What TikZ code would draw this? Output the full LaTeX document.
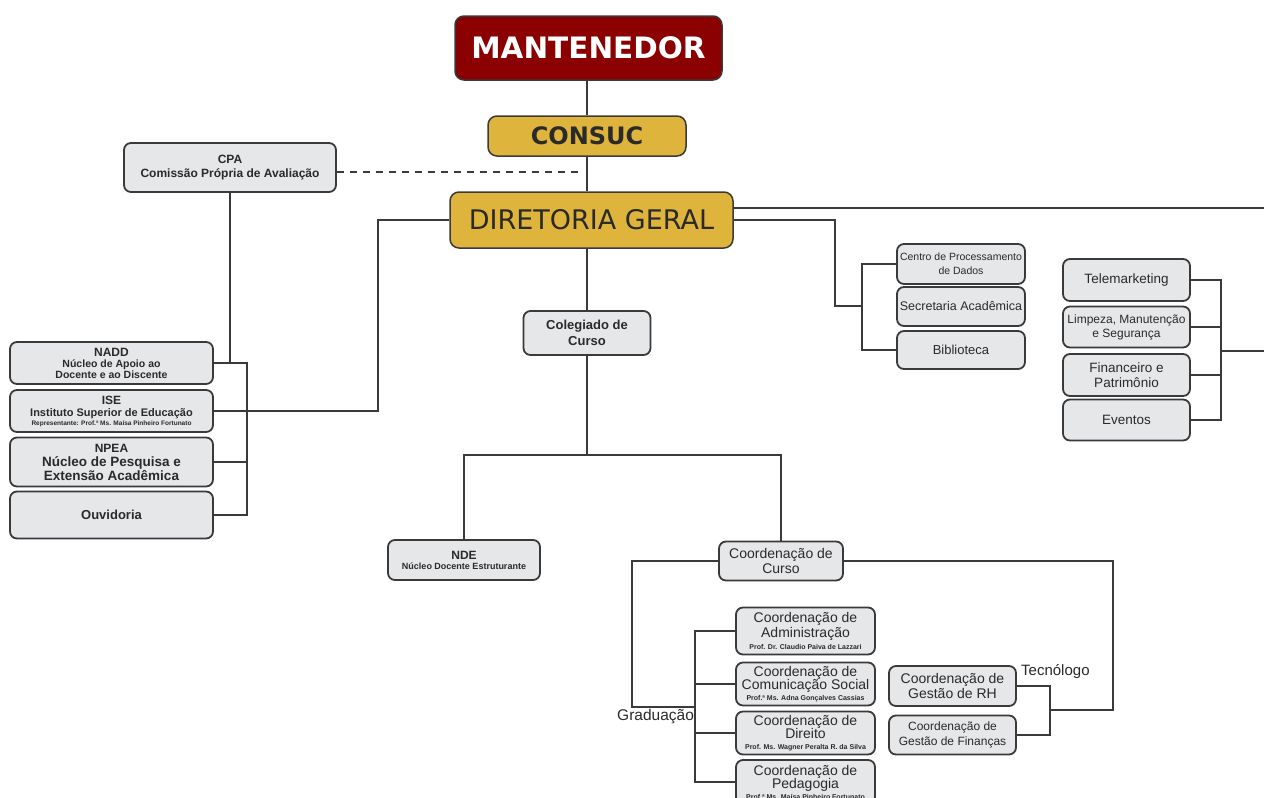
\documentclass[tikz,border=0pt]{standalone}
\usepackage{fontspec}
\setmainfont{Liberation Sans}
\newfontfamily\dv{DejaVu Sans}
\usetikzlibrary{calc}
\definecolor{boxfill}{HTML}{E6E7E9}
\definecolor{boxline}{HTML}{3A3A3A}
\definecolor{mantred}{HTML}{8B0000}
\definecolor{gold}{HTML}{DFB43C}
\definecolor{txt}{HTML}{2A2A2A}
\newcommand{\fs}[2]{\fontsize{#1}{#2}\selectfont}
\begin{document}
\begin{tikzpicture}[x=1pt,y=-1pt,
  box/.style={draw=boxline, fill=boxfill, rounded corners=7pt, line width=1.8pt,
    align=center, inner sep=1pt, text=txt},
  topbox/.style={draw=boxline, rounded corners=9pt, line width=1.5pt, align=center, inner sep=0pt},
  conn/.style={draw=boxline, line width=1.6pt},
  lbl/.style={inner sep=0pt, text=txt}]
\useasboundingbox (0,0) rectangle (1264,798);
\clip (0,0) rectangle (1264,798);

% top boxes
\node[topbox, fill=mantred, text=white, minimum width=267, minimum height=64, font=\dv\bfseries\fs{29.5}{34}] (mant) at (588.5,48) {MANTENEDOR};
\node[topbox, fill=gold, text=txt, minimum width=198, minimum height=40, font=\dv\bfseries\fs{24}{28}] (consuc) at (587,136) {CONSUC};
\node[topbox, fill=gold, text=txt, minimum width=283, minimum height=56, font=\dv\fs{27}{30}] (dir) at (591.5,220) {DIRETORIA GERAL};

% CPA
\node[box, minimum width=212, minimum height=49, font=\bfseries\fs{12}{14}] (cpa) at (230,167.5) {CPA\\Comissão Própria de Avaliação};

% left column
\node[box, minimum width=203, minimum height=42, font=\bfseries\fs{10.5}{11}] (nadd) at (111.5,363) {\fs{12}{12}NADD\\Núcleo de Apoio ao\\Docente e ao Discente};
\node[box, minimum width=203, minimum height=42, font=\bfseries\fs{11}{12}] (ise) at (111.5,411) {\fs{12}{11}ISE\\Instituto Superior de Educação\\[-3pt]\fs{6.5}{6}Representante: Prof.ª Ms. Maísa Pinheiro Fortunato};
\node[box, minimum width=203, minimum height=49, font=\bfseries\fs{13.5}{14}] (npea) at (111.5,462) {\fs{12}{12}NPEA\\Núcleo de Pesquisa e\\Extensão Acadêmica};
\node[box, minimum width=203, minimum height=47, font=\bfseries\fs{13}{14}] (ouv) at (111.5,515) {Ouvidoria};

% middle right column
\node[box, minimum width=128, minimum height=40, font=\fs{10.5}{14}] (centro) at (961,264) {Centro de Processamento\\de Dados};
\node[box, minimum width=128, minimum height=39, font=\fs{12.5}{13}] (secr) at (961,306.5) {Secretaria Acadêmica};
\node[box, minimum width=128, minimum height=38, font=\fs{13}{14}] (bibl) at (961,350) {Biblioteca};

% right column
\node[box, minimum width=127, minimum height=42, font=\fs{13.5}{14}] (tele) at (1126.5,280) {Telemarketing};
\node[box, minimum width=127, minimum height=41, font=\fs{12}{14}] (limp) at (1126.5,327) {Limpeza, Manutenção\\e Segurança};
\node[box, minimum width=127, minimum height=42, font=\fs{13.5}{15}] (fin) at (1126.5,375) {Financeiro e\\Patrimônio};
\node[box, minimum width=127, minimum height=41, font=\fs{13.5}{14}] (event) at (1126.5,420) {Eventos};

% colegiado
\node[box, minimum width=127, minimum height=44, font=\bfseries\fs{13}{16}] (coleg) at (587,333) {Colegiado de\\Curso};
\node[box, minimum width=152, minimum height=40, font=\bfseries\fs{9}{10}] (nde) at (464,560) {\fs{12}{12}NDE\\Núcleo Docente Estruturante};
\node[box, minimum width=124, minimum height=39, font=\fs{14}{15}] (ccurso) at (781,561) {Coordenação de\\Curso};

% graduação
\node[box, minimum width=139, minimum height=47, font=\fs{14}{15}] (adm) at (805.5,631) {Coordenação de\\Administração\\[-3pt]\bfseries\fs{7}{7}Prof. Dr. Claudio Paiva de Lazzari};
\node[box, minimum width=139, minimum height=43, font=\fs{14}{13.5}] (com) at (805.5,684) {Coordenação de\\Comunicação Social\\[-3pt]\bfseries\fs{7}{6}Prof.ª Ms. Adna Gonçalves Cassias};
\node[box, minimum width=139, minimum height=43, font=\fs{14}{13.5}] (dirc) at (805.5,733) {Coordenação de\\Direito\\[-3pt]\bfseries\fs{7}{6}Prof. Ms. Wagner Peralta R. da Silva};
\node[box, minimum width=139, minimum height=44, font=\fs{14}{13.5}] (ped) at (805.5,782) {Coordenação de\\Pedagogia\\[-3pt]\bfseries\fs{7}{6}Prof.ª Ms. Maísa Pinheiro Fortunato};

% tecnólogo
\node[box, minimum width=127, minimum height=40, font=\fs{14}{15}] (rh) at (952.5,686) {Coordenação de\\Gestão de RH};
\node[box, minimum width=127, minimum height=39, font=\fs{12}{15}] (gfin) at (952.5,735) {Coordenação de\\Gestão de Finanças};

\node[lbl, anchor=west, font=\fs{15.5}{16}] (grad) at (617,717) {Graduação};
\node[lbl, anchor=west, font=\fs{15}{16}] (tec) at (1021,672) {Tecnólogo};

% coordinates
\coordinate (lb) at (247,0);
\coordinate (isej) at (378,0);
\coordinate (rEnd) at (1264,208);
\coordinate (mj) at (835,306);
\coordinate (mb) at (862,306);
\coordinate (rb) at (1221,0);
\coordinate (rEnd2) at (1264,351);
\coordinate (hb) at (0,455);
\coordinate (gj) at (632,707);
\coordinate (gb) at (695,0);
\coordinate (tj) at (1113,710);
\coordinate (tb) at (1050,0);

% connectors
\draw[conn] (consuc.north |- mant.south) -- (consuc.north);
\draw[conn] (consuc.south) -- (consuc.south |- dir.north);
\draw[conn, dashed, dash pattern=on 7pt off 6pt] (cpa.east |- 0,172) -- (583,172);
\draw[conn] (cpa.south) -- (cpa.south |- nadd.east);
\draw[conn] (nadd.east) -- (nadd.east -| lb) -- (ouv.east -| lb) -- (ouv.east);
\draw[conn] (npea.east) -- (npea.east -| lb);
\draw[conn] (ise.east) -| (isej |- dir.west) -- (dir.west);
\draw[conn] ($(dir.east)+(0,-12)$) -- (rEnd);
\draw[conn] (dir.east) -| (mj) -- (mb);
\draw[conn] (centro.west) -- (centro.west -| mb) -- (bibl.west -| mb) -- (bibl.west);
\draw[conn] (tele.east) -- (tele.east -| rb) -- (event.east -| rb) -- (event.east);
\draw[conn] (limp.east) -- (limp.east -| rb);
\draw[conn] (fin.east) -- (fin.east -| rb);
\draw[conn] (rEnd2 -| rb) -- (rEnd2);
\draw[conn] (coleg.north |- dir.south) -- (coleg.north);
\draw[conn] (coleg.south) -- (coleg.south |- hb);
\draw[conn] (nde.north) |- (ccurso.north |- hb) -- (ccurso.north);
\draw[conn] (ccurso.west) -| (gj) -- (gj -| gb);
\draw[conn] (adm.west) -- (adm.west -| gb) -- (ped.west -| gb) -- (ped.west);
\draw[conn] (com.west) -- (com.west -| gb);
\draw[conn] (dirc.west) -- (dirc.west -| gb);
\draw[conn] (ccurso.east) -| (tj) -- (tj -| tb);
\draw[conn] (rh.east) -- (rh.east -| tb) -- (gfin.east -| tb) -- (gfin.east);
\end{tikzpicture}
\end{document}
